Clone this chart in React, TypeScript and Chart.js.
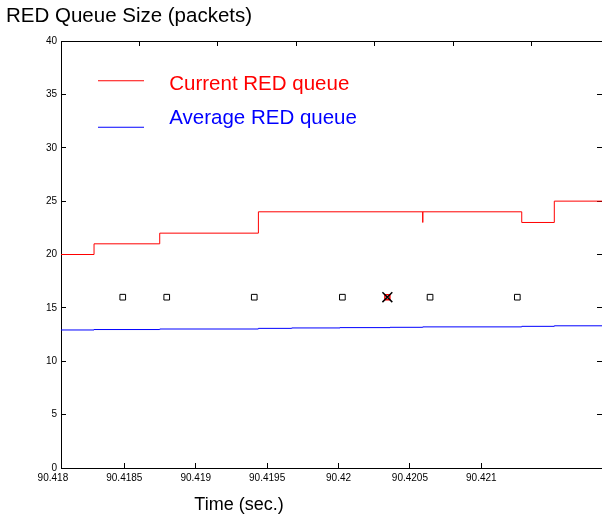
import React, { useEffect, useRef } from 'react';
import { Chart, registerables } from 'chart.js';

Chart.register(...registerables);

const chartTitle = 'RED Queue Size (packets)';
const xAxisTitle = 'Time (sec.)';

const xTickValues = [90.418, 90.4185, 90.419, 90.4195, 90.42, 90.4205, 90.421];
const xTickLabels = ['90.418', '90.4185', '90.419', '90.4195', '90.42', '90.4205', '90.421'];
const topTickValues = [1, 2, 3, 4, 5, 6];

const currentLabel = 'Current RED queue';
const currentTimes = [90.4180567, 90.418288, 90.418748, 90.419439, 90.42059, 90.42059, 90.421283, 90.421511, 90.421845];
const currentQueue = [20, 21, 22, 24, 23, 24, 23, 25, 25];

const averageLabel = 'Average RED queue';
const averageTimes = [90.4180567, 90.418288, 90.418748, 90.419439, 90.4196723, 90.4200105, 90.4203606, 90.42059, 90.421283, 90.421511, 90.421845];
const averageQueue = [12.93, 12.97, 13.02, 13.08, 13.12, 13.15, 13.18, 13.22, 13.27, 13.32, 13.32];

const markerTimes = [90.418489, 90.418797, 90.41941, 90.420027, 90.420641, 90.421252];
const markerValues = [16, 16, 16, 16, 16, 16];

const markedTimes = [90.420342];
const markedValues = [16];

const X_MIN = 90.4180567;
const X_MAX = 90.421845;

const FONT = '"Liberation Sans", Arial, Helvetica, sans-serif';

function legendLine(color: string, w: number, h: number, row: number, from: number, to: number) {
  const c = document.createElement('canvas');
  c.width = w;
  c.height = h;
  const g = c.getContext('2d')!;
  g.fillStyle = color;
  g.fillRect(from, row, to - from, 1);
  return c;
}

const xTitlePlugin = {
  id: 'xTitleText',
  afterDraw(chart: any) {
    const { ctx, chartArea } = chart;
    ctx.save();
    ctx.font = '18px ' + FONT;
    ctx.fillStyle = '#000';
    ctx.textAlign = 'center';
    ctx.textBaseline = 'alphabetic';
    ctx.fillText(xAxisTitle, chartArea.left + 178, chartArea.bottom + 42);
    ctx.restore();
  },
};

const zeroPad = (s: any) => {
  s.paddingLeft = 0;
  s.paddingRight = 0;
  s.paddingTop = 0;
  s.paddingBottom = 0;
};

export default function App() {
  const ref = useRef<HTMLCanvasElement>(null);
  useEffect(() => {
    Chart.defaults.font.family = FONT;
    Chart.defaults.color = '#000';
    const redImg = legendLine('#ff0000', 84, 20, 6, 23, 69);
    const blueImg = legendLine('#0000ff', 84, 30, 23, 23, 69);
    const toXY = (xs: number[], ys: number[]) => xs.map((x, i) => ({ x, y: ys[i] }));
    const chart = new Chart(ref.current!, {
      type: 'line',
      data: {
        datasets: [
          {
            label: currentLabel,
            data: toXY(currentTimes, currentQueue),
            borderColor: '#ff0000',
            borderWidth: 1,
            stepped: 'before',
            pointRadius: 0,
            pointStyle: redImg as any,
            fill: false,
            order: 2,
            xAxisID: 'x',
            yAxisID: 'y',
          },
          {
            label: averageLabel,
            data: toXY(averageTimes, averageQueue),
            borderColor: '#0000ff',
            borderWidth: 1,
            stepped: 'before',
            pointRadius: 0,
            pointStyle: blueImg as any,
            fill: false,
            order: 3,
            xAxisID: 'x',
            yAxisID: 'y',
          },
          {
            label: 'markers',
            data: toXY(markerTimes, markerValues),
            showLine: false,
            pointStyle: 'rect',
            pointRadius: 4,
            pointBorderWidth: 1,
            pointBorderColor: '#000',
            pointBackgroundColor: '#fff',
            borderColor: '#000',
            order: 1,
            xAxisID: 'x',
            yAxisID: 'y',
          },
          {
            label: 'marked',
            data: toXY(markedTimes, markedValues),
            showLine: false,
            pointStyle: 'rect',
            pointRadius: 3.5,
            pointBorderWidth: 1.5,
            pointBorderColor: '#ff0000',
            pointBackgroundColor: '#fff',
            borderColor: '#ff0000',
            order: 1,
            xAxisID: 'x',
            yAxisID: 'y',
          },
          {
            label: 'cross',
            data: toXY(markedTimes, markedValues),
            showLine: false,
            pointStyle: 'crossRot',
            pointRadius: 7,
            pointBorderWidth: 1.5,
            pointBorderColor: '#000',
            borderColor: '#000',
            order: 0,
            xAxisID: 'x',
            yAxisID: 'y',
          },
        ],
      },
      options: {
        responsive: false,
        animation: false,
        devicePixelRatio: 1,
        events: [],
        layout: { autoPadding: false, padding: { left: 6, top: 0, right: 0, bottom: 0 } },
        scales: {
          x: {
            type: 'linear',
            position: 'bottom',
            min: X_MIN,
            max: X_MAX,
            afterBuildTicks: (s: any) => {
              s.ticks = xTickValues.map((v) => ({ value: v }));
            },
            afterFit: (s: any) => {
              s.height = 50;
              zeroPad(s);
            },
            ticks: {
              autoSkip: false,
              maxRotation: 0,
              padding: 9,
              font: { size: 10 },
              color: '#000',
              callback: (_v: any, i: number) => xTickLabels[i],
            },
            grid: {
              drawOnChartArea: false,
              tickLength: -5,
              color: (c: any) => (c.tick && c.tick.value < X_MIN ? 'rgba(0,0,0,0)' : '#000'),
            },
            border: { display: true, color: '#000', width: 1 },
          },
          x2: {
            type: 'linear',
            position: 'top',
            min: 0,
            max: 6.9005,
            afterBuildTicks: (s: any) => {
              s.ticks = topTickValues.map((v) => ({ value: v }));
            },
            afterFit: (s: any) => {
              s.height = 0;
              zeroPad(s);
            },
            ticks: { display: false },
            grid: { drawOnChartArea: false, tickLength: -5, color: '#000' },
            border: { display: true, color: '#000', width: 1 },
          },
          y: {
            type: 'linear',
            position: 'left',
            min: 0,
            max: 40,
            afterFit: (s: any) => {
              s.width = 55;
              zeroPad(s);
            },
            ticks: { stepSize: 5, padding: 9, font: { size: 10 }, color: '#000' },
            grid: { drawOnChartArea: false, tickLength: -5, color: '#000' },
            border: { display: true, color: '#000', width: 1 },
          },
          y2: {
            type: 'linear',
            position: 'right',
            min: 0,
            max: 40,
            afterFit: (s: any) => {
              s.width = 0;
              zeroPad(s);
            },
            ticks: { stepSize: 5, display: false },
            grid: { drawOnChartArea: false, tickLength: -5, color: '#000' },
            border: { display: false },
          },
        },
        plugins: {
          title: {
            display: true,
            text: chartTitle,
            align: 'start',
            color: '#000',
            font: { size: 20.5, weight: 'normal' },
            padding: { top: 4, bottom: 12.4 },
          },
          legend: {
            position: 'chartArea',
            align: 'start',
            title: { display: true, text: ' ', font: { size: 1 }, padding: { top: 58.8, bottom: 0 } },
            labels: {
              usePointStyle: true,
              pointStyleWidth: 84,
              boxHeight: 20,
              padding: 14,
              font: { size: 20.5 },
              generateLabels: (ch: any) => {
                const items = (Chart.defaults.plugins.legend.labels as any).generateLabels(ch);
                return items
                  .filter((it: any) => it.datasetIndex < 2)
                  .map((it: any) => ({ ...it, fontColor: ch.data.datasets[it.datasetIndex].borderColor }));
              },
            },
          },
          tooltip: { enabled: false },
        },
      } as any,
      plugins: [xTitlePlugin],
    });
    return () => chart.destroy();
  }, []);
  return (
    <div style={{ position: 'absolute', left: 0, top: 0, width: 602, height: 518, background: '#fff', overflow: 'hidden' }}>
      <canvas ref={ref} width={602} height={518} style={{ display: 'block' }} />
    </div>
  );
}
